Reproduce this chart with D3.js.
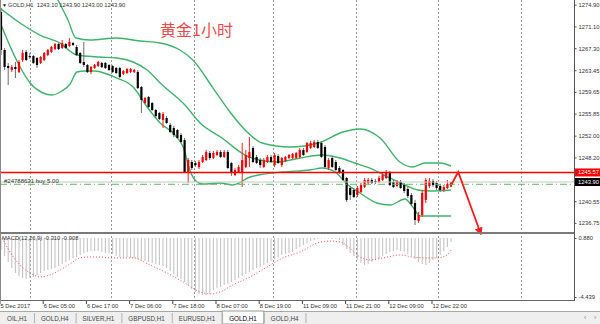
<!DOCTYPE html>
<html>
<head>
<meta charset="utf-8">
<script src="https://cdn.jsdelivr.net/npm/d3@7"></script>
<style>
html, body { margin: 0; padding: 0; background: #fff; }
svg { display: block; }
text { font-family: "Liberation Sans", Arial, sans-serif; }
</style>
</head>
<body>
<div id="chart"></div>
<script>
// hourly GOLD candles (bar 0 = 5 Dec 2017)
var opens = [1273.62,1266.98,1264.18,1263.48,1264.01,1263.13,1265.23,1266.63,1265.93,1265.93,
    1265.58,1264.71,1265.23,1266.10,1266.63,1267.15,1268.03,1267.33,1268.03,1267.68,
    1268.20,1267.50,1266.45,1264.88,1264.36,1263.13,1263.83,1264.18,1264.71,1264.71,
    1264.36,1264.18,1263.83,1263.83,1262.78,1262.96,1263.13,1263.13,1263.13,1260.51,
    1257.71,1258.76,1257.71,1256.49,1255.96,1254.74,1255.09,1253.87,1253.34,1252.99,
    1252.12,1251.24,1245.65,1247.40,1247.22,1246.52,1247.40,1247.75,1248.97,1248.10,
    1248.62,1249.15,1248.27,1249.15,1247.22,1245.12,1245.65,1245.65,1246.52,1248.10,
    1249.85,1248.27,1247.75,1246.52,1247.40,1248.27,1246.87,1248.45,1246.87,1247.57,
    1248.10,1248.10,1248.10,1248.27,1249.50,1249.15,1249.85,1250.02,1250.89,1250.72,
    1250.02,1246.35,1248.10,1247.40,1246.35,1246.00,1244.60,1242.85,1242.50,1241.63,
    1242.15,1243.03,1243.73,1244.25,1244.08,1243.90,1244.25,1244.60,1245.47,1243.90,
    1243.20,1243.90,1243.38,1242.68,1241.63,1240.23,1237.08,1238.13,1240.76,1243.20,
    1244.08,1243.73,1243.20,1242.50,1242.85,1243.10];
var highs = [1274.32,1267.33,1264.71,1264.36,1264.88,1265.23,1266.98,1266.98,1266.45,1266.10,
    1265.75,1265.93,1266.63,1267.15,1267.68,1268.20,1268.20,1268.73,1268.20,1269.08,
    1268.38,1267.85,1266.63,1268.38,1264.53,1264.18,1264.53,1265.06,1264.88,1264.88,
    1264.53,1264.36,1264.01,1264.01,1263.48,1263.83,1263.83,1263.66,1263.48,1260.68,
    1258.76,1258.94,1257.89,1256.66,1256.14,1256.14,1255.44,1254.22,1253.69,1253.17,
    1252.47,1251.59,1248.10,1247.75,1247.57,1247.75,1248.62,1249.50,1249.32,1249.32,
    1249.50,1249.50,1249.50,1249.50,1247.40,1246.35,1246.87,1250.72,1249.50,1251.77,
    1250.19,1248.62,1248.10,1248.10,1248.62,1248.62,1248.97,1248.80,1248.27,1248.45,
    1248.80,1248.97,1249.15,1249.85,1249.85,1250.89,1251.07,1251.24,1251.24,1251.07,
    1250.37,1248.10,1248.45,1247.75,1246.70,1246.17,1244.77,1243.20,1242.85,1243.20,
    1243.73,1244.60,1244.60,1244.60,1244.43,1244.95,1245.47,1246.00,1245.82,1244.25,
    1244.25,1244.25,1243.73,1243.03,1241.98,1240.76,1238.66,1242.50,1244.60,1244.60,
    1244.43,1244.08,1243.55,1243.38,1244.25,1243.90];
var lows = [1266.10,1263.48,1260.86,1263.13,1262.08,1262.96,1264.88,1265.06,1265.40,1264.53,
    1263.83,1264.53,1265.06,1265.93,1266.45,1266.98,1266.98,1267.15,1267.15,1267.50,
    1267.68,1265.93,1264.53,1264.01,1262.96,1262.78,1263.66,1264.01,1263.83,1263.66,
    1263.31,1262.96,1262.78,1262.08,1262.61,1262.78,1262.96,1262.96,1260.16,1255.96,
    1257.54,1256.84,1256.31,1255.09,1254.74,1253.34,1254.04,1252.47,1251.77,1251.42,
    1250.72,1245.47,1243.73,1246.00,1246.52,1246.17,1247.22,1247.57,1247.75,1247.92,
    1248.45,1248.10,1248.10,1246.17,1244.95,1244.95,1245.47,1243.03,1246.35,1246.52,
    1247.22,1247.05,1246.35,1246.35,1247.22,1247.22,1246.52,1247.05,1246.52,1247.40,
    1247.92,1247.92,1247.92,1248.10,1248.45,1248.97,1249.67,1249.85,1249.67,1248.10,
    1246.35,1246.00,1246.35,1245.82,1245.30,1244.08,1240.41,1240.76,1241.10,1241.28,
    1241.98,1242.85,1243.55,1243.55,1243.55,1243.73,1244.08,1244.43,1243.20,1242.85,
    1243.03,1242.68,1241.98,1241.10,1239.71,1236.38,1236.73,1237.78,1240.23,1242.85,
    1243.03,1242.50,1242.15,1242.15,1242.68,1243.00];
var closes = [1266.98,1264.01,1263.83,1264.01,1263.66,1264.88,1266.45,1265.23,1265.75,1264.71,
    1264.36,1265.75,1266.45,1266.98,1267.50,1268.03,1267.15,1268.20,1267.33,1268.38,
    1267.85,1266.10,1264.71,1264.36,1263.13,1264.01,1264.36,1264.88,1264.01,1263.83,
    1263.48,1263.13,1262.96,1262.26,1263.31,1263.66,1263.66,1263.48,1260.33,1258.24,
    1258.59,1257.01,1256.49,1255.44,1254.92,1255.79,1254.22,1252.64,1252.12,1251.59,
    1250.89,1245.65,1247.75,1246.35,1246.87,1247.40,1248.27,1249.15,1248.10,1248.97,
    1249.15,1248.27,1249.15,1246.35,1245.47,1246.00,1246.52,1247.75,1248.62,1249.15,
    1247.40,1247.22,1246.87,1247.75,1248.27,1247.40,1248.62,1247.22,1248.10,1248.27,
    1248.62,1248.80,1248.97,1249.50,1248.62,1250.72,1250.72,1250.89,1249.85,1248.27,
    1246.52,1247.75,1246.52,1246.00,1245.47,1244.25,1240.76,1241.63,1241.28,1242.85,
    1243.38,1244.25,1244.25,1243.73,1243.90,1244.60,1245.12,1245.47,1243.38,1243.03,
    1243.90,1242.85,1242.33,1241.45,1240.06,1237.26,1238.13,1241.98,1244.25,1244.08,
    1243.38,1242.85,1242.50,1243.03,1243.55,1243.90];

// Bollinger bands, points (bar index, price)
var upperBars = [12.2,15.8,18.6,20.8,24.7,32.2,38.6,44.2,49.7,53.3,58.9,63.6,67.8,72.5,80.3,88.1,95,99.7,105.3,110.8,114.2,117.8,122,125];
var upperVals = [1280.09,1275.72,1272.22,1269.08,1268.73,1269.08,1268.55,1268.20,1266.98,1265.23,1260.33,1256.14,1252.99,1250.72,1250.02,1250.72,1252.64,1253.17,1251.59,1247.40,1246.52,1247.22,1247.22,1246.70];
var middleBars = [-0.3,5.3,10.8,16.4,21.1,27.5,32.2,36.7,40.6,44.2,51.1,55.3,61.4,67.8,71.9,76.7,83.1,89.2,94.2,98.3,103.1,107.5,112.2,115.8,119.2,125];
var middleVals = [1274.32,1271.70,1269.60,1268.20,1266.10,1265.75,1265.58,1264.88,1263.48,1261.21,1257.36,1254.22,1251.59,1248.62,1247.75,1247.40,1248.10,1248.62,1248.10,1247.22,1246.17,1244.77,1243.38,1242.50,1242.33,1242.50];
var lowerBars = [-0.3,0.6,5.3,8.1,11.7,14.2,16.9,19.2,21.1,23.3,26.1,29.4,32.2,36.7,40.6,44.2,48.3,51.1,52,53.9,56.1,60.8,64.4,69.2,78.3,85.8,89.2,92.8,96.4,99.7,104.4,108.1,112.2,114.4,116.4,119.2,125];
var lowerVals = [1271.87,1270.47,1264.01,1261.21,1259.46,1259.11,1259.81,1261.03,1263.13,1263.31,1263.31,1262.78,1262.08,1260.51,1257.01,1254.22,1252.12,1249.15,1246.87,1244.25,1243.55,1243.73,1243.38,1244.77,1245.65,1246.00,1246.35,1245.65,1243.38,1241.98,1240.23,1239.88,1240.93,1239.53,1237.96,1237.96,1237.96];

// MACD(12,26,9): main line as histogram, signal as dotted line
var macdHist = [-0.90,-1.35,-1.80,-2.26,-2.63,-2.86,-3.01,-3.08,-3.01,-2.93,
    -2.78,-2.63,-2.48,-2.41,-2.33,-2.26,-2.11,-1.96,-1.80,-1.65,
    -1.50,-1.43,-1.28,-1.13,-1.05,-0.98,-0.98,-0.98,-1.05,-1.13,
    -1.13,-1.20,-1.35,-1.43,-1.43,-1.43,-1.50,-1.50,-1.58,-1.65,
    -1.73,-1.80,-1.88,-1.96,-2.03,-2.11,-2.26,-2.48,-2.71,-2.93,
    -3.08,-3.31,-3.53,-3.84,-4.06,-4.21,-4.29,-4.29,-4.21,-3.91,
    -3.76,-3.68,-3.53,-3.46,-3.31,-3.16,-3.01,-2.86,-2.71,-2.56,
    -2.41,-2.26,-2.18,-2.03,-1.88,-1.73,-1.58,-1.43,-1.28,-1.20,
    -1.13,-1.05,-0.83,-0.68,-0.53,-0.38,-0.23,-0.15,-0.08,-0.04,
    -0.04,-0.04,-0.08,-0.08,-0.15,-0.53,-0.83,-1.13,-1.35,-1.65,
    -1.88,-2.03,-1.96,-1.80,-1.65,-1.58,-1.35,-1.20,-1.05,-0.98,
    -0.90,-0.98,-1.05,-1.20,-1.35,-1.58,-1.80,-1.96,-2.03,-1.88,
    -1.65,-1.50,-1.28,-0.98,-0.68,-0.31];
var signalBars = [0.3,2.5,5.3,8.1,10.8,13.6,16.4,19.2,21.9,24.7,27.5,30.3,36.7,41.4,46.1,50.6,55.3,58.1,60.8,64.4,69.2,73.9,78.3,83.1,87.8,91.4,94.2,96.9,99.7,102.5,106.1,110.8,114.4,118.3,121.1,123.9,125];
var signalVals = [0,-1.05,-2.03,-2.63,-2.93,-2.78,-2.41,-1.96,-1.50,-1.43,-1.43,-1.50,-1.50,-2.03,-2.63,-3.31,-4.06,-4.21,-4.06,-3.53,-2.93,-2.18,-1.50,-1.05,-0.38,-0.23,-0.30,-0.75,-1.43,-1.65,-1.50,-1.28,-1.43,-1.50,-1.50,-1.28,-0.91];

var yTickLabels = ["1274.90", "1271.10", "1267.30", "1263.45", "1259.65", "1255.85", "1252.00", "1248.20", "1240.55", "1236.75"];
var macdTickLabels = ["0.880", "-4.439"];
var xTickBars = [0, 12, 24, 36, 48, 60, 72, 84, 96, 108, 120];
var xTickLabels = ["5 Dec 2017", "6 Dec 05:00", "6 Dec 17:00", "7 Dec 06:00", "7 Dec 18:00", "8 Dec 07:00",
    "8 Dec 19:00", "11 Dec 09:00", "11 Dec 21:00", "12 Dec 09:00", "12 Dec 22:00"];
var gridBars = [8, 30.5, 53.5, 75.5, 98.5, 121.5, 144.5];
var tabNames = ["OIL,H1", "GOLD,H4", "SILVER,H1", "GBPUSD,H1", "EURUSD,H1", "GOLD,H1", "GOLD,H4"];
var activeTab = 5;

var levelPrice = 1245.57;
var bidPrice = 1243.90;
var orderPrice = 1243.50;
var orderText = "#24788631 buy 5.00";
var arrowBars = [125.2, 127, 133.3];
var arrowPrices = [1243.55, 1245.65, 1234.81];
var headerText = "GOLD,H1  1243.10 1243.90 1243.00 1243.90";
var macdText = "MACD(12,26,9) -0.310 -0.908";
var titleText = "黄金1小时";

var width = 600, height = 324;
var plotRight = 574, mainBottom = 232, macdBottom = 301;

var svg = d3.select("#chart").append("svg")
    .attr("width", width)
    .attr("height", height);

var x = d3.scaleLinear().domain([0, 100]).range([1, 361]);
var y = d3.scaleLinear().domain([1236.75, 1274.90]).range([222.9, 4.7]);
var ym = d3.scaleLinear().domain([-4.439, 0]).range([297, 238]);

svg.append("defs").append("clipPath").attr("id", "mainClip")
    .append("rect").attr("x", 0).attr("y", 0).attr("width", plotRight).attr("height", mainBottom);
svg.select("defs").append("marker")
    .attr("id", "head")
    .attr("viewBox", "0 0 10 10")
    .attr("refX", 8).attr("refY", 5)
    .attr("markerWidth", 8).attr("markerHeight", 8)
    .attr("markerUnits", "userSpaceOnUse")
    .attr("orient", "auto")
    .append("path").attr("d", "M0,0 L10,5 L0,10 z").attr("fill", "#ff1a1a");

// dashed vertical grid through both panels
svg.append("g").selectAll("line")
    .data(gridBars)
    .join("line")
    .attr("x1", function (d) { return Math.round(x(d)) + 0.5; })
    .attr("x2", function (d) { return Math.round(x(d)) + 0.5; })
    .attr("y1", 0)
    .attr("y2", macdBottom)
    .attr("stroke", "#9a9a9a")
    .attr("stroke-dasharray", "2,2");

var main = svg.append("g").attr("clip-path", "url(#mainClip)");

// bands
var bandLine = d3.line()
    .x(function (d) { return x(d[0]); })
    .y(function (d) { return y(d[1]); })
    .curve(d3.curveMonotoneX);
[[upperBars, upperVals], [middleBars, middleVals], [lowerBars, lowerVals]].forEach(function (b) {
    main.append("path")
        .datum(d3.zip(b[0], b[1]))
        .attr("d", bandLine)
        .attr("fill", "none")
        .attr("stroke", "#3cb66a")
        .attr("stroke-width", 1.4);
});

// candles
var candles = d3.range(opens.length).map(function (i) {
    return { i: i, o: opens[i], h: highs[i], l: lows[i], c: closes[i] };
});
var gCandles = main.append("g");
gCandles.selectAll("line")
    .data(candles)
    .join("line")
    .attr("x1", function (d) { return x(d.i); })
    .attr("x2", function (d) { return x(d.i); })
    .attr("y1", function (d) { return y(d.h); })
    .attr("y2", function (d) { return y(d.l); })
    .attr("stroke", function (d) { return d.c >= d.o ? "#ff2020" : "#6a6a6a"; })
    .attr("stroke-width", 1);
gCandles.selectAll("rect")
    .data(candles)
    .join("rect")
    .attr("x", function (d) { return x(d.i) - 1.1; })
    .attr("width", 2.2)
    .attr("y", function (d) { return y(Math.max(d.o, d.c)); })
    .attr("height", function (d) { return Math.max(1, Math.abs(y(d.o) - y(d.c))); })
    .attr("fill", function (d) { return d.c >= d.o ? "#ff0000" : "#000000"; });

// price levels
main.append("line")
    .attr("x1", 0).attr("x2", plotRight)
    .attr("y1", y(bidPrice)).attr("y2", y(bidPrice))
    .attr("stroke", "#c8c8c8");
main.append("line")
    .attr("x1", 0).attr("x2", plotRight)
    .attr("y1", y(orderPrice)).attr("y2", y(orderPrice))
    .attr("stroke", "#5cbf5c")
    .attr("stroke-dasharray", "7,3,1,3");
main.append("line")
    .attr("x1", 0).attr("x2", plotRight)
    .attr("y1", y(levelPrice)).attr("y2", y(levelPrice))
    .attr("stroke", "#ff0000")
    .attr("stroke-width", 1.6);

main.append("text")
    .attr("x", 4).attr("y", y(bidPrice) + 0.5)
    .style("font-size", "6px")
    .attr("fill", "#333")
    .text(orderText);

// header and title
svg.append("text")
    .attr("x", 2).attr("y", 6.5)
    .style("font-size", "5px")
    .attr("fill", "#222")
    .text("▼");
svg.append("text")
    .attr("x", 8).attr("y", 6.8)
    .style("font-size", "5.8px")
    .attr("fill", "#333")
    .style("white-space", "pre")
    .text(headerText);
svg.append("text")
    .attr("x", 160).attr("y", 36)
    .style("font-family", "'Noto Sans CJK SC', sans-serif")
    .style("font-size", "16px")
    .attr("fill", "#f24a4a")
    .text(titleText);

// arrow drawn on top
svg.append("path")
    .datum(d3.zip(arrowBars, arrowPrices))
    .attr("d", d3.line().x(function (d) { return x(d[0]); }).y(function (d) { return y(d[1]); }))
    .attr("fill", "none")
    .attr("stroke", "#ff1a1a")
    .attr("stroke-width", 1.8)
    .attr("marker-end", "url(#head)");

// macd panel
svg.append("g").selectAll("line")
    .data(macdHist)
    .join("line")
    .attr("x1", function (d, i) { return x(i); })
    .attr("x2", function (d, i) { return x(i); })
    .attr("y1", ym(0))
    .attr("y2", function (d) { return ym(d); })
    .attr("stroke", "#c4c4c4")
    .attr("stroke-width", 1.1);
svg.append("path")
    .datum(d3.zip(signalBars, signalVals))
    .attr("d", d3.line().x(function (d) { return x(d[0]); }).y(function (d) { return ym(d[1]); }).curve(d3.curveMonotoneX))
    .attr("fill", "none")
    .attr("stroke", "#ff4a4a")
    .attr("stroke-width", 1)
    .attr("stroke-dasharray", "1,2");
svg.append("text")
    .attr("x", 2).attr("y", 240)
    .style("font-size", "5.8px")
    .attr("fill", "#333")
    .text(macdText);

// frames
svg.append("rect")
    .attr("x", 0).attr("y", mainBottom)
    .attr("width", plotRight).attr("height", 2)
    .attr("fill", "#7a7a7a");
svg.append("line")
    .attr("x1", 0).attr("x2", plotRight + 0.5)
    .attr("y1", macdBottom - 0.5).attr("y2", macdBottom - 0.5)
    .attr("stroke", "#666");
svg.append("line")
    .attr("x1", 0.5).attr("x2", 0.5)
    .attr("y1", 0).attr("y2", macdBottom)
    .attr("stroke", "#888");
svg.append("line")
    .attr("x1", plotRight + 0.5).attr("x2", plotRight + 0.5)
    .attr("y1", 0).attr("y2", macdBottom)
    .attr("stroke", "#555");

// right price axis
var yAxis = svg.append("g")
    .attr("transform", "translate(" + (plotRight + 0.5) + ",0)")
    .call(d3.axisRight(y)
        .tickValues(yTickLabels.map(Number))
        .tickFormat(function (d, i) { return yTickLabels[i]; })
        .tickSize(2)
        .tickPadding(2));
yAxis.select(".domain").remove();
yAxis.selectAll("text").style("font-size", "5.8px").attr("fill", "#333");
yAxis.selectAll("line").attr("stroke", "#555");

var mAxis = svg.append("g")
    .attr("transform", "translate(" + (plotRight + 0.5) + ",0)")
    .call(d3.axisRight(ym)
        .tickValues([0, -4.439])
        .tickFormat(function (d, i) { return macdTickLabels[i]; })
        .tickSize(2)
        .tickPadding(2));
mAxis.select(".domain").remove();
mAxis.selectAll("text").style("font-size", "5.8px").attr("fill", "#333");
mAxis.selectAll("line").attr("stroke", "#555");

// price tags on the axis
[[levelPrice, "#ff0000"], [bidPrice, "#000000"]].forEach(function (p) {
    svg.append("rect")
        .attr("x", plotRight + 1).attr("y", y(p[0]) - 4)
        .attr("width", width - plotRight - 1).attr("height", 8)
        .attr("fill", p[1]);
    svg.append("text")
        .attr("x", plotRight + 4).attr("y", y(p[0]) + 2)
        .style("font-size", "5.8px")
        .attr("fill", "#fff")
        .text(p[0].toFixed(2));
});

// time axis
var xAxis = svg.append("g")
    .attr("transform", "translate(0," + macdBottom + ")")
    .call(d3.axisBottom(x)
        .tickValues(xTickBars)
        .tickFormat(function (d, i) { return xTickLabels[i]; })
        .tickSize(3));
xAxis.select(".domain").remove();
xAxis.selectAll("line").attr("stroke", "#444").attr("transform", "translate(-1.5,0)");
xAxis.selectAll("text")
    .style("font-size", "5.8px")
    .attr("fill", "#333")
    .attr("text-anchor", "start")
    .attr("x", -1)
    .attr("dy", "0.2em");

// symbol tabs
var tabs = svg.append("g");
tabs.append("rect").attr("x", 0).attr("y", 311).attr("width", width).attr("height", 13).attr("fill", "#efefef");
tabs.append("line").attr("x1", 0).attr("x2", width).attr("y1", 311.5).attr("y2", 311.5).attr("stroke", "#a8a8a8");
var tx = 0;
tabNames.forEach(function (name, i) {
    var t = tabs.append("text")
        .attr("x", tx + 7).attr("y", 320.5)
        .style("font-size", "6.3px")
        .attr("fill", i === activeTab ? "#000" : "#444")
        .text(name);
    var w = t.node().getComputedTextLength() + 14;
    if (i === activeTab) {
        tabs.insert("rect", "text")
            .attr("x", tx).attr("y", 311)
            .attr("width", w).attr("height", 13)
            .attr("fill", "#fff")
            .attr("stroke", "#9a9a9a");
    }
    tabs.append("line")
        .attr("x1", tx + w + 0.5).attr("x2", tx + w + 0.5)
        .attr("y1", 313).attr("y2", 323)
        .attr("stroke", "#b0b0b0");
    tx += w;
});
tabs.append("text").attr("x", 584).attr("y", 320).style("font-size", "7px").attr("fill", "#888").text("‹");
tabs.append("text").attr("x", 594).attr("y", 320).style("font-size", "7px").attr("fill", "#888").text("›");
</script>
</body>
</html>
